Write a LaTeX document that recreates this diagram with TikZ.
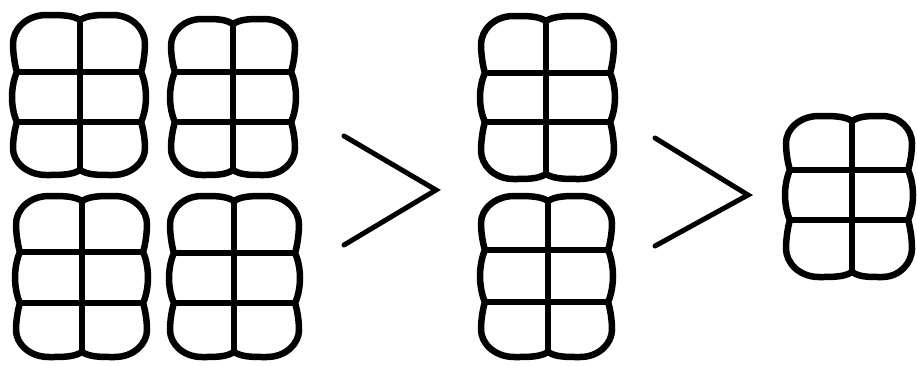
\documentclass[tikz,border=0pt]{standalone}
\begin{document}
% A group of six bulging cells (2 columns x 3 rows).
% #1 left, #2 top, #3 right, #4 bottom, #5 middle column line, #6/#7 row lines
\newcommand\cellgroup[7]{%
  \draw[cellline]
    (#5,#2+5) .. controls (#5+8,#2) and ({(#5+#3)/2-15},#2) .. ({(#5+#3)/2},#2)
    .. controls ({(#5+#3)/2+0.3*(#3-#5)},#2) and (#3,{#2+0.25*(#6-#2)}) .. (#3,{(#2+#6)/2})
    .. controls (#3,{(#2+#6)/2+10}) and (#3-2,#6-6) .. (#3-4,#6)
    .. controls (#3-1,#6+6) and (#3+1,{(#6+#7)/2-9}) .. (#3+1,{(#6+#7)/2})
    .. controls (#3+1,{(#6+#7)/2+9}) and (#3-1,#7-6) .. (#3-4,#7)
    .. controls (#3-2,#7+6) and (#3,{(#7+#4)/2-10}) .. (#3,{(#7+#4)/2})
    .. controls (#3,{#4-0.25*(#4-#7)}) and ({(#5+#3)/2+0.3*(#3-#5)},#4) .. ({(#5+#3)/2},#4)
    .. controls ({(#5+#3)/2-15},#4) and (#5+8,#4) .. (#5,#4-5)
    .. controls (#5-8,#4) and ({(#1+#5)/2+15},#4) .. ({(#1+#5)/2},#4)
    .. controls ({(#1+#5)/2-0.3*(#5-#1)},#4) and (#1,{#4-0.25*(#4-#7)}) .. (#1,{(#7+#4)/2})
    .. controls (#1,{(#7+#4)/2-10}) and (#1+2,#7+6) .. (#1+4,#7)
    .. controls (#1+1,#7-6) and (#1-1,{(#6+#7)/2+9}) .. (#1-1,{(#6+#7)/2})
    .. controls (#1-1,{(#6+#7)/2-9}) and (#1+1,#6+6) .. (#1+4,#6)
    .. controls (#1+2,#6-6) and (#1,{(#2+#6)/2+10}) .. (#1,{(#2+#6)/2})
    .. controls (#1,{#2+0.25*(#6-#2)}) and ({(#1+#5)/2-0.3*(#5-#1)},#2) .. ({(#1+#5)/2},#2)
    .. controls ({(#1+#5)/2+15},#2) and (#5-8,#2) .. (#5,#2+5) -- cycle;
  \draw[cellline] (#5,#2+5) -- (#5,#4-5);
  \draw[cellline] (#1+4,#6) -- (#3-4,#6);
  \draw[cellline] (#1+4,#7) -- (#3-4,#7);
}
\begin{tikzpicture}[x=1pt,y=-1pt,
  cellline/.style={line width=6.5pt,line join=round},
  gtmark/.style={line width=5pt,line cap=round,line join=miter}]
  \useasboundingbox (0,0) rectangle (917,365);
  % four groups on the left
  \cellgroup{13}{15}{145}{175}{80}{72}{122}
  \cellgroup{171}{19}{295}{175}{233}{72}{122}
  \cellgroup{16}{196}{147}{357}{82}{252}{303}
  \cellgroup{170}{196}{299}{357}{234}{253}{303}
  % first "greater than" sign
  \coordinate (g1a) at (344,136);
  \coordinate (g1b) at (436,190);
  \coordinate (g1c) at (344,245);
  \draw[gtmark] (g1a) -- (g1b) -- (g1c);
  % two groups in the middle
  \cellgroup{481}{16}{614}{179}{546}{73}{122}
  \cellgroup{481}{196}{612}{357}{548}{250}{302}
  % second "greater than" sign
  \coordinate (g2a) at (655,138);
  \coordinate (g2b) at (748,195);
  \coordinate (g2c) at (655,246);
  \draw[gtmark] (g2a) -- (g2b) -- (g2c);
  % single group on the right
  \cellgroup{786}{116}{912}{277}{852}{170}{220}
\end{tikzpicture}
\end{document}
